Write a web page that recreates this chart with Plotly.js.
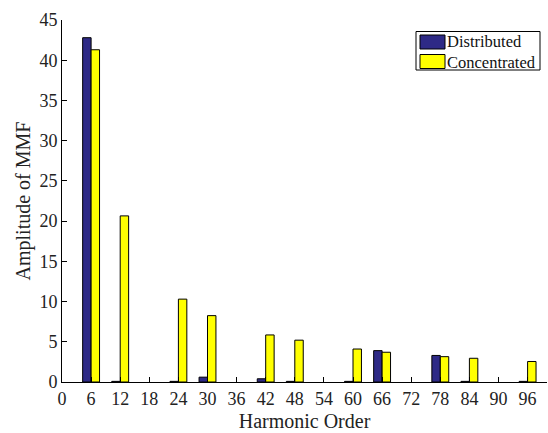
<!DOCTYPE html>
<html><head><meta charset="utf-8">
<script src="https://cdn.plot.ly/plotly-3.0.1.min.js"></script>
<style>body{margin:0;padding:0;background:#fff}#chart{width:548px;height:433px}</style>
</head><body><div id="chart"></div>
<script>
const harmonicOrder = [6,12,18,24,30,36,42,48,54,60,66,72,78,84,90,96];
const distributed   = [42.8,0.08,null,0.08,0.6,null,0.4,0.08,null,0.08,3.9,null,3.3,0.08,null,0.08];
const concentrated  = [41.3,20.65,null,10.3,8.25,null,5.85,5.2,null,4.1,3.7,null,3.15,2.95,null,2.55];
const seriesNames = ['Distributed','Concentrated'];
const seriesColors = ['rgb(46,42,134)','#ffff00'];
const xTicks = [0,6,12,18,24,30,36,42,48,54,60,66,72,78,84,90,96];
const yTicks = [0,5,10,15,20,25,30,35,40,45];

const font = {family:'"Liberation Serif", "Times New Roman", serif', color:'#222'};
const traces = [
  {type:'bar', name:seriesNames[0], x:harmonicOrder, y:distributed,
   marker:{color:seriesColors[0], line:{color:'#000', width:1}}},
  {type:'bar', name:seriesNames[1], x:harmonicOrder, y:concentrated,
   marker:{color:seriesColors[1], line:{color:'#000', width:1}}}
];

// custom legend box (paper coords, pixel-based)
const W = 548, H = 433, mL = 62, mR = 1, mT = 20, mB = 51;
const pw = W - mL - mR, ph = H - mT - mB;
const px = x => (x - mL) / pw;
const py = y => 1 - (y - mT) / ph;
const shapes = [
  {type:'rect', xref:'paper', yref:'paper', x0:px(416), x1:px(540), y0:py(31.5), y1:py(70),
   line:{color:'#000', width:1}, fillcolor:'#fff', layer:'above'},
  {type:'rect', xref:'paper', yref:'paper', x0:px(420), x1:px(445), y0:py(35), y1:py(49),
   line:{color:'#000', width:1}, fillcolor:seriesColors[0], layer:'above'},
  {type:'rect', xref:'paper', yref:'paper', x0:px(420), x1:px(445), y0:py(54.5), y1:py(68.5),
   line:{color:'#000', width:1}, fillcolor:seriesColors[1], layer:'above'}
];
const annotations = [{
  xref:'paper', yref:'paper', x:px(446), y:py(51.5), xanchor:'left', yanchor:'middle', align:'left',
  text:seriesNames.join('<br>'), showarrow:false, borderpad:0,
  font:Object.assign({size:16.5}, font, {color:'#111'})
}];

const layout = {
  width:W, height:H,
  margin:{l:mL, r:mR, t:mT, b:mB},
  paper_bgcolor:'#fff', plot_bgcolor:'#fff',
  barmode:'group', bargap:0.42, bargroupgap:0,
  font:Object.assign({size:16}, font),
  showlegend:false,
  shapes:shapes, annotations:annotations,
  xaxis:{range:[0,100], tickvals:xTicks, ticktext:xTicks.map(String),
    showgrid:false, zeroline:false, showline:true, linecolor:'#000', linewidth:1,
    ticks:'inside', ticklen:5, tickcolor:'#000',
    tickfont:Object.assign({size:18}, font),
    title:{text:'Harmonic Order', font:Object.assign({size:20}, font), standoff:6}},
  yaxis:{range:[0,45], tickvals:yTicks, ticktext:yTicks.map(String),
    showgrid:false, zeroline:false, showline:true, linecolor:'#000', linewidth:1,
    ticks:'inside', ticklen:5, tickcolor:'#000',
    tickfont:Object.assign({size:18}, font),
    title:{text:'Amplitude of MMF', font:Object.assign({size:20}, font), standoff:3}}
};
Plotly.newPlot('chart', traces, layout, {displayModeBar:false, staticPlot:true});
</script></body></html>
